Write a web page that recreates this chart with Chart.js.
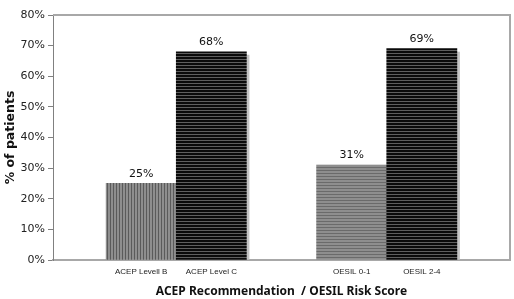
<!DOCTYPE html>
<html>
<head>
<meta charset="utf-8">
<script src="https://cdn.jsdelivr.net/npm/chart.js@4/dist/chart.umd.min.js"></script>
<style>
    html, body { margin: 0; padding: 0; background: #fff; }
    #wrap { width: 514px; height: 299px; position: relative; }
</style>
</head>
<body>
<div id="wrap"><canvas id="chart"></canvas></div>
<script>
// empty slot in the middle separates the two groups
const categories = ['ACEP Levell B', 'ACEP Level C', '', 'OESIL 0-1', 'OESIL 2-4'];
const values = [25, 68, null, 31, 69];
const yTicks = [0, 10, 20, 30, 40, 50, 60, 70, 80];

function makePattern(w, h, bg, fg, vertical) {
    const c = document.createElement('canvas');
    c.width = w;
    c.height = h;
    const g = c.getContext('2d');
    g.fillStyle = bg;
    g.fillRect(0, 0, w, h);
    g.fillStyle = fg;
    if (vertical) {
        g.fillRect(w - 1, 0, 1, h);
    } else {
        g.fillRect(0, h - 1, w, 1);
    }
    return g.createPattern(c, 'repeat');
}

const ctx = document.getElementById('chart').getContext('2d');

const grayVertical = makePattern(3, 3, '#8e8e8e', '#5a5a5a', true);
const grayHorizontal = makePattern(3, 3, '#8e8e8e', '#6a6a6a', false);
const blackHorizontal = makePattern(3, 3, '#0a0a0a', '#5e5e5e', false);
const fills = [grayVertical, blackHorizontal, null, grayHorizontal, blackHorizontal];

const points = [];
const colors = [];
values.forEach((v, i) => {
    if (v !== null) {
        points.push({ x: i, y: v });
        colors.push(fills[i]);
    }
});

const barShadow = {
    id: 'barShadow',
    beforeDatasetsDraw(chart) {
        const g = chart.ctx;
        g.save();
        g.fillStyle = '#c4c4c4';
        chart.getDatasetMeta(0).data.forEach(bar => {
            g.fillRect(bar.x + bar.width / 2, bar.y + 3, 3, bar.base - bar.y - 3);
        });
        g.restore();
    }
};

const valueLabels = {
    id: 'valueLabels',
    afterDatasetsDraw(chart) {
        const g = chart.ctx;
        g.save();
        g.font = '11px "DejaVu Sans"';
        g.fillStyle = '#111';
        g.textAlign = 'center';
        g.textBaseline = 'bottom';
        chart.getDatasetMeta(0).data.forEach((bar, i) => {
            g.fillText(points[i].y + '%', bar.x, bar.y - 4);
        });
        g.restore();
    }
};

const frame = {
    id: 'frame',
    afterDraw(chart) {
        const a = chart.chartArea;
        const g = chart.ctx;
        g.save();
        g.strokeStyle = '#a8a8a8';
        g.lineWidth = 2;
        g.beginPath();
        g.moveTo(a.left, a.top);
        g.lineTo(a.right, a.top);
        g.lineTo(a.right, a.bottom);
        g.stroke();
        g.restore();
    }
};

new Chart(ctx, {
    type: 'bar',
    data: {
        datasets: [{
            data: points,
            backgroundColor: colors,
            borderWidth: 0,
            barPercentage: 1,
            categoryPercentage: 1
        }]
    },
    options: {
        responsive: true,
        maintainAspectRatio: false,
        animation: false,
        layout: {
            padding: { top: 15, right: 4, left: 0, bottom: 0 }
        },
        plugins: {
            legend: { display: false },
            tooltip: { enabled: false }
        },
        scales: {
            x: {
                type: 'linear',
                offset: false,
                min: -1.257,
                max: 5.257,
                afterBuildTicks(scale) {
                    scale.ticks = categories
                        .map((c, i) => ({ value: i, label: c }))
                        .filter(t => t.label !== '');
                },
                afterFit(scale) {
                    scale.height = 39;
                },
                grid: { display: false, drawTicks: false, offset: false },
                border: { display: true, color: '#a8a8a8', width: 2 },
                ticks: {
                    autoSkip: false,
                    maxRotation: 0,
                    padding: 7,
                    color: '#222',
                    font: { family: '"Liberation Sans", Arial', size: 8 },
                    callback: value => categories[value]
                },
                title: {
                    display: true,
                    text: 'ACEP Recommendation  / OESIL Risk Score',
                    color: '#111',
                    font: { family: '"Noto Sans"', size: 12, weight: 'bold' },
                    padding: { top: 0, bottom: 0 }
                }
            },
            y: {
                min: 0,
                max: 80,
                afterBuildTicks(scale) {
                    scale.ticks = yTicks.map(v => ({ value: v }));
                },
                afterFit(scale) {
                    scale.width = 53;
                },
                grid: {
                    drawOnChartArea: false,
                    drawTicks: true,
                    tickLength: 5,
                    color: '#808080'
                },
                border: { display: true, color: '#808080', width: 1 },
                ticks: {
                    padding: 3,
                    color: '#222',
                    font: { family: '"DejaVu Sans"', size: 11 },
                    callback: value => value + '%'
                },
                title: {
                    display: true,
                    text: '% of patients',
                    color: '#111',
                    font: { family: '"DejaVu Sans"', size: 12.5, weight: 'bold' },
                    padding: { top: 3, bottom: 0 }
                }
            }
        }
    },
    plugins: [barShadow, valueLabels, frame]
});
</script>
</body>
</html>
